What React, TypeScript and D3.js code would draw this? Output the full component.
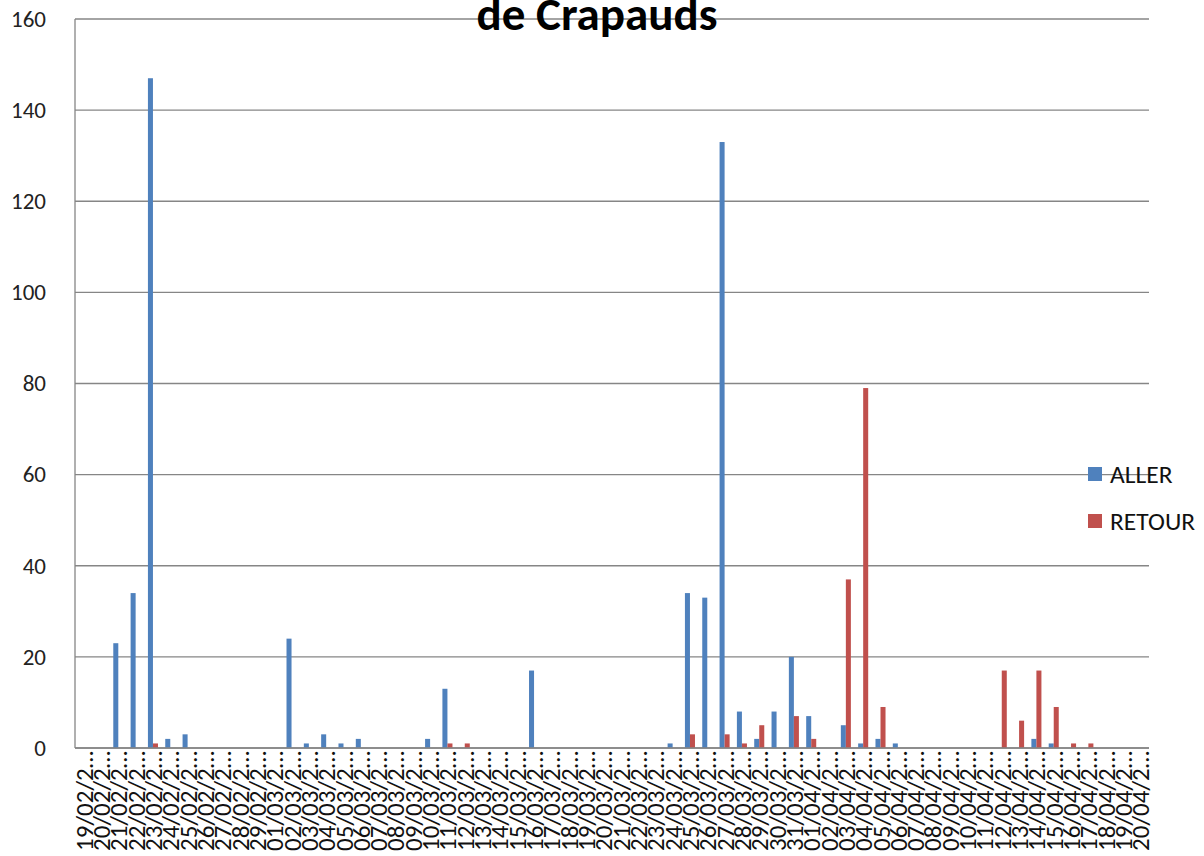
import React from "react";
import * as d3 from "d3";

// ---- Data ----
const months: { mm: string; days: number; start: number }[] = [
  { mm: "02", start: 19, days: 29 },
  { mm: "03", start: 1, days: 31 },
  { mm: "04", start: 1, days: 20 },
];
const dates: string[] = [];
months.forEach((m) => {
  for (let d = m.start; d <= m.days; d++) dates.push(`${String(d).padStart(2, "0")}/${m.mm}/2…`);
});

// index-aligned with dates (19/02 .. 20/04)
const aller: number[] = [
  0, 0, 23, 34, 147, 2, 3, 0, 0, 0, 0, // 19/02 - 29/02
  0, 24, 1, 3, 1, 2, 0, 0, 0, 2, 13, 0, 0, 0, 0, 17, 0, 0, 0, 0, 0, 0, 0, 1, 34, 33, 133, 8, 2, 8, 20, // 01/03 - 31/03
  7, 0, 5, 1, 2, 1, 0, 0, 0, 0, 0, 0, 0, 2, 1, 0, 0, 0, 0, 0, // 01/04 - 20/04
];
const retour: number[] = [
  0, 0, 0, 0, 1, 0, 0, 0, 0, 0, 0,
  0, 0, 0, 0, 0, 0, 0, 0, 0, 0, 1, 1, 0, 0, 0, 0, 0, 0, 0, 0, 0, 0, 0, 0, 3, 0, 3, 1, 5, 0, 7,
  2, 0, 37, 79, 9, 0, 0, 0, 0, 0, 0, 17, 6, 17, 9, 1, 1, 0, 0, 0,
];
const seriesNames = ["ALLER", "RETOUR"];
const seriesColors = ["#4F81BD", "#C0504D"];
const yTicks = [0, 20, 40, 60, 80, 100, 120, 140, 160];
const title = "de Crapauds";

const W = 1204;
const H = 856;
const FONT = "Carlito, Lato, 'Open Sans', sans-serif";

export default function App() {
  const left = 75, right = 1149, top = 19, bottom = 748;
  const x = d3.scaleBand<string>().domain(dates).range([left, right]).paddingInner(0).paddingOuter(0);
  const bw = x.bandwidth();
  const groupW = bw * 0.58;
  const xs = d3.scaleBand<string>().domain(seriesNames).range([(bw - groupW) / 2, (bw + groupW) / 2]);
  const y = d3.scaleLinear().domain([0, 160]).range([bottom, top]);
  const series = [aller, retour];

  return (
    <svg width={W} height={H} style={{ position: "absolute", left: 0, top: 0, background: "#fff" }} fontFamily={FONT}>
      <rect x={0} y={0} width={W} height={H} fill="#fff" />
      {/* gridlines */}
      {yTicks.map((t) => (
        <line key={t} x1={left} x2={right} y1={y(t)} y2={y(t)} stroke="#868686" strokeWidth={1.3} />
      ))}
      {/* y axis line */}
      <line x1={left} x2={left} y1={y(160)} y2={y(0)} stroke="#868686" strokeWidth={1.3} />
      {/* y tick labels */}
      {yTicks.map((t) => (
        <text key={"l" + t} x={46} y={y(t)} dy="0.34em" textAnchor="end" fontSize={23} fill="#222">
          {t}
        </text>
      ))}
      {/* bars */}
      {series.map((vals, si) =>
        vals.map((v, i) =>
          v > 0 ? (
            <rect
              key={si + "-" + i}
              x={(x(dates[i]) as number) + (xs(seriesNames[si]) as number)}
              y={y(v)}
              width={xs.bandwidth()}
              height={y(0) - y(v)}
              fill={seriesColors[si]}
            />
          ) : null
        )
      )}
      {/* x axis line */}
      <line x1={left} x2={right} y1={y(0)} y2={y(0)} stroke="#868686" strokeWidth={1.3} />
      {/* x labels */}
      {dates.map((d) => {
        const cx = (x(d) as number) + bw / 2;
        return (
          <text
            key={d}
            transform={`translate(${cx},751) rotate(-90)`}
            dy="0.36em"
            textAnchor="end"
            fontSize={25}
            fill="#111"
          >
            {d}
          </text>
        );
      })}
      {/* title */}
      <text x={597} y={30} textAnchor="middle" fontSize={47} fontWeight="bold" fill="#000">
        {title}
      </text>
      {/* legend */}
      {seriesNames.map((n, i) => (
        <g key={n} transform={`translate(1088,${467 + i * 47})`}>
          <rect x={0} y={0} width={14} height={14} fill={seriesColors[i]} />
          <text x={22} y={7} dy="0.34em" fontSize={25.5} fill="#111">
            {n}
          </text>
        </g>
      ))}
    </svg>
  );
}
